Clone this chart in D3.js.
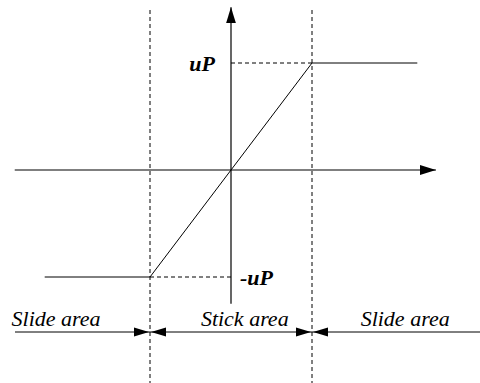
<!DOCTYPE html>
<html><head><meta charset="utf-8">
<script src="https://cdn.jsdelivr.net/npm/d3@7"></script>
<style>body{margin:0;background:#fff}svg{display:block}</style>
</head><body>
<script>
// Data
const stickBounds = [-1, 1];            // x-positions of stick area limits
const levelValues = [-1, 1];            // force levels -uP, uP
const levelLabels = ["-uP", "uP"];
const curveX = [-2.3, -1, 1, 2.3];
const curveY = [-1, -1, 1, 1];
const areaLabels = ["Slide area", "Stick area", "Slide area"];
const areaCenters = [-2.16, 0.17, 2.15];

const W = 480, H = 383;
const x = d3.scaleLinear().domain([-1, 1]).range([150, 312]);
const y = d3.scaleLinear().domain([-1, 1]).range([277, 63]);

const svg = d3.select("body").append("svg").attr("width", W).attr("height", H);
const defs = svg.append("defs");
defs.append("marker").attr("id", "ah").attr("viewBox", "0 0 16 10")
  .attr("refX", 16).attr("refY", 5).attr("markerWidth", 16).attr("markerHeight", 10)
  .attr("markerUnits", "userSpaceOnUse").attr("orient", "auto")
  .append("path").attr("d", "M0,0L16,5L0,10Z").attr("fill", "#000");

// dashed vertical boundaries
svg.selectAll(".vb").data(stickBounds).enter().append("line")
  .attr("x1", d => x(d)).attr("x2", d => x(d)).attr("y1", 10).attr("y2", H)
  .attr("stroke", "#000").attr("stroke-width", 1).attr("stroke-dasharray", "4,3");

// dashed horizontal to axis
svg.selectAll(".hb").data(levelValues).enter().append("line")
  .attr("x1", x(0)).attr("x2", d => x(d)).attr("y1", d => y(d)).attr("y2", d => y(d))
  .attr("stroke", "#000").attr("stroke-width", 1).attr("stroke-dasharray", "4,3");

// axes
svg.append("line").attr("x1", x(-2.67)).attr("x2", x(2.53)).attr("y1", y(0)).attr("y2", y(0))
  .attr("stroke", "#000").attr("stroke-width", 1.2).attr("marker-end", "url(#ah)");
svg.append("line").attr("x1", x(0)).attr("x2", x(0)).attr("y1", y(-1.25)).attr("y2", y(1.52))
  .attr("stroke", "#000").attr("stroke-width", 1.2).attr("marker-end", "url(#ah)");

// curve
const pts = curveX.map((v, i) => [v, curveY[i]]);
svg.append("path").attr("d", d3.line().x(d => x(d[0])).y(d => y(d[1]))(pts))
  .attr("fill", "none").attr("stroke", "#000").attr("stroke-width", 1);

// level labels
svg.append("text").attr("x", x(0) - 16).attr("y", y(1) + 8).attr("text-anchor", "end")
  .attr("font-family", "Liberation Serif, Times New Roman, serif").attr("font-size", 22)
  .attr("font-weight", "bold").attr("font-style", "italic").text(levelLabels[1]);
svg.append("text").attr("x", x(0) + 9).attr("y", y(-1) + 8).attr("text-anchor", "start")
  .attr("font-family", "Liberation Serif, Times New Roman, serif").attr("font-size", 22)
  .attr("font-weight", "bold").attr("font-style", "italic").text(levelLabels[0]);

// bottom area arrows
const by = 332;
svg.append("line").attr("x1", 15).attr("x2", W).attr("y1", by).attr("y2", by)
  .attr("stroke", "#000").attr("stroke-width", 1);
const tri = (tip, dir) => `M${tip},${by}L${tip - dir * 15},${by - 4.5}L${tip - dir * 15},${by + 4.5}Z`;
stickBounds.forEach(b => {
  const px = x(b);
  svg.append("path").attr("d", tri(px - 1, 1)).attr("fill", "#000");
  svg.append("path").attr("d", tri(px + 1, -1)).attr("fill", "#000");
});

svg.selectAll(".al").data(areaLabels).enter().append("text")
  .attr("x", (d, i) => x(areaCenters[i])).attr("y", 326).attr("text-anchor", "middle")
  .attr("font-family", "Liberation Serif, Times New Roman, serif").attr("font-size", 22)
  .attr("font-style", "italic").text(d => d);
</script>
</body></html>
